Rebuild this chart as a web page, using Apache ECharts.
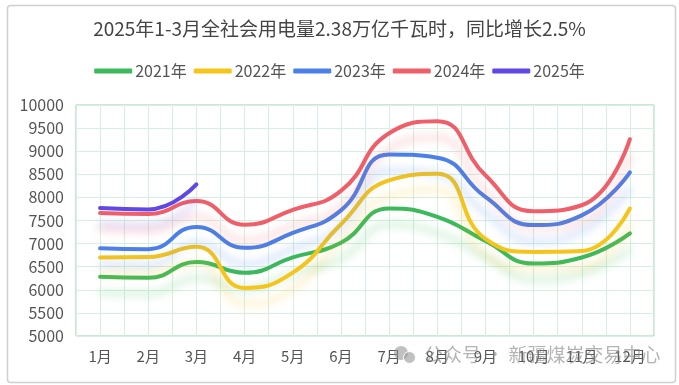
<!DOCTYPE html>
<html><head><meta charset="utf-8">
<script src="https://cdn.jsdelivr.net/npm/echarts@6/dist/echarts.min.js"></script>
<style>html,body{margin:0;padding:0;background:#fff}#c{width:679px;height:385px}</style>
</head><body><div id="c"></div>
<script>
var titleText = '2025年1-3月全社会用电量2.38万亿千瓦时，同比增长2.5%';
var months = ['1月','2月','3月','4月','5月','6月','7月','8月','9月','10月','11月','12月'];
var seriesNames = ['2021年','2022年','2023年','2024年','2025年'];
var y2021 = [6280, 6260, 6600, 6370, 6700, 7020, 7760, 7580, 7060, 6570, 6700, 7220];
var y2022 = [6700, 6710, 6930, 6040, 6370, 7420, 8370, 8510, 7100, 6820, 6840, 7760];
var y2023 = [6900, 6880, 7360, 6910, 7230, 7720, 8930, 8860, 8010, 7400, 7610, 8540];
var y2024 = [7660, 7640, 7920, 7410, 7730, 8140, 9390, 9650, 8480, 7700, 7830, 9260];
var y2025 = [7770, 7740, 8280];
var colors = ['#3cb95a', '#f6c51b', '#4a80e8', '#ee5f6a', '#5f48e6'];
var shadowColors = ['rgba(60,185,90,0.3)', 'rgba(246,197,27,0.3)', 'rgba(74,128,232,0.3)', 'rgba(238,95,106,0.3)', 'rgba(95,72,230,0.25)'];
var allData = [y2021, y2022, y2023, y2024, y2025];

var chart = echarts.init(document.getElementById('c'));
var font = '"Noto Sans CJK SC", "Noto Sans", sans-serif';
chart.setOption({
  animation: false,
  textStyle: { fontFamily: font },
  title: { text: titleText, left: 'center', top: 14,
    textStyle: { fontSize: 19, fontWeight: 'normal', color: '#444', fontFamily: font } },
  legend: { top: 58, left: 'center', icon: 'roundRect', itemWidth: 38, itemHeight: 5, itemGap: 7,
    textStyle: { fontSize: 16, color: '#555', fontFamily: font, padding: [0,0,0,-2] },
    data: seriesNames },
  grid: { left: 76, right: 25, top: 105, bottom: 49, show: true, borderColor: '#93d3a2', borderWidth: 1 },
  xAxis: [
    { type: 'category', data: months, boundaryGap: true,
      axisLine: { show: false }, axisTick: { show: false },
      axisLabel: { fontSize: 15, color: '#555', margin: 13 },
      splitLine: { show: false } },
    { type: 'value', min: 0, max: 24, interval: 1, position: 'bottom',
      axisLine: { show: false }, axisTick: { show: false }, axisLabel: { show: false },
      splitLine: { show: true, lineStyle: { color: '#d6efe0', width: 1 } } }
  ],
  yAxis: { type: 'value', min: 5000, max: 10000, interval: 500,
    axisLine: { show: false }, axisTick: { show: false },
    axisLabel: { fontSize: 16, color: '#555', margin: 12, formatter: function (v) { return String(v); } },
    splitLine: { lineStyle: { color: '#d6efe0', width: 1 } } },
  series: seriesNames.map(function (n, i) {
    return { name: n, type: 'line', data: allData[i], smooth: 0.5, symbol: 'none',
      xAxisIndex: 0, color: colors[i],
      lineStyle: { width: 4, color: colors[i], cap: 'round',
        shadowColor: shadowColors[i], shadowBlur: 8, shadowOffsetY: 16 } };
  }),
  graphic: [
    { type: 'rect', left: 5, top: 3, shape: { width: 668, height: 377, r: 3 },
      style: { fill: 'none', stroke: '#d0d0d0', lineWidth: 1.5 }, silent: true, z: -1 },
    { type: 'circle', left: 394, top: 346, shape: { r: 7 }, style: { fill: 'rgba(150,150,150,0.6)' }, z: 100 },
    { type: 'circle', left: 403, top: 351, shape: { r: 6 }, style: { fill: 'rgba(150,150,150,0.6)', stroke: '#fff', lineWidth: 1 }, z: 101 },
    { type: 'text', left: 424, top: 345,
      style: { text: '公众号 · 新疆煤炭交易中心', fill: 'rgba(130,130,130,0.6)', fontSize: 19, fontFamily: font }, z: 100 }
  ]
});
</script></body></html>
